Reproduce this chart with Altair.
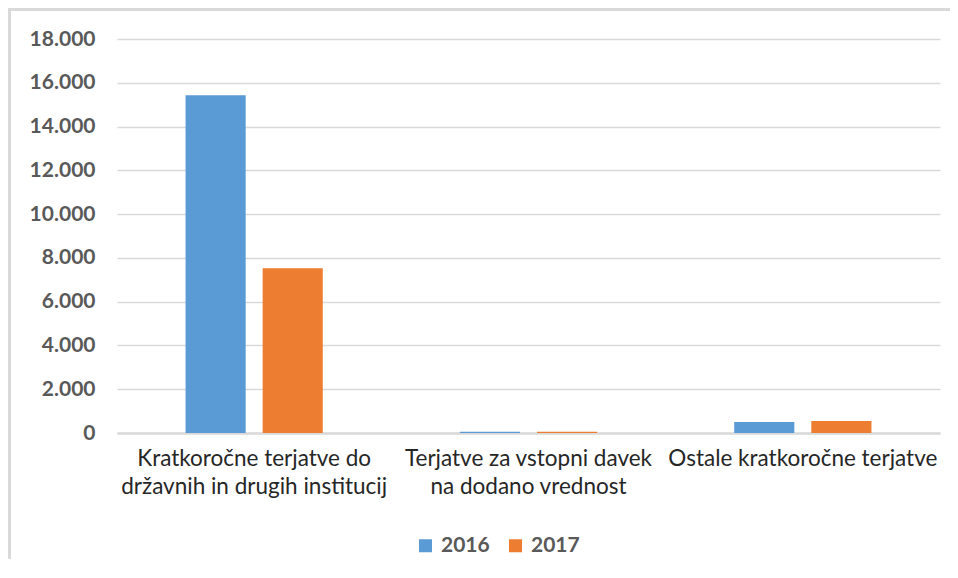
import altair as alt
import pandas as pd

categories = [
    "Kratkoročne terjatve do državnih in drugih institucij",
    "Terjatve za vstopni davek na dodano vrednost",
    "Ostale kratkoročne terjatve",
]
label_lines = [
    ["Kratkoročne terjatve do", "državnih in drugih institucij"],
    ["Terjatve za vstopni davek", "na dodano vrednost"],
    ["Ostale kratkoročne terjatve"],
]
years = ["2016", "2017"]
values_2016 = [15430, 60, 500]
values_2017 = [7530, 55, 545]
y_ticks = [0, 2000, 4000, 6000, 8000, 10000, 12000, 14000, 16000, 18000]
colors = ["#5B9BD5", "#ED7D31"]

rows = []
for c, a, b in zip(categories, values_2016, values_2017):
    rows.append({"cat": c, "year": "2016", "value": a})
    rows.append({"cat": c, "year": "2017", "value": b})
df = pd.DataFrame(rows)

# label expression mapping category -> multi-line label
mapping = "{" + ",".join(
    "'" + c + "': [" + ",".join("'" + l + "'" for l in lines) + "]"
    for c, lines in zip(categories, label_lines)
) + "}"

FONT = "Lato"

bars = alt.Chart(df).mark_bar().encode(
    x=alt.X(
        "cat:N",
        sort=categories,
        title=None,
        scale=alt.Scale(paddingInner=0, paddingOuter=0),
        axis=alt.Axis(
            labelExpr=mapping + "[datum.value]",
            labelAngle=0,
            labelFont=FONT,
            labelFontSize=22.5,
            labelColor="#262626",
            labelPadding=14,
            labelLineHeight=28,
            labelBaseline="top",
            ticks=False,
            domainColor="#d9d9d9",
            domainWidth=2.5,
            grid=False,
            labelLimit=400,
        ),
    ),
    xOffset=alt.XOffset(
        "year:N", scale=alt.Scale(paddingInner=0.22, paddingOuter=0.889)
    ),
    y=alt.Y(
        "value:Q",
        title=None,
        scale=alt.Scale(domain=[0, 18000], nice=False),
        axis=alt.Axis(
            values=y_ticks,
            labelExpr="replace(format(datum.value, ','), ',', '.')",
            labelFont=FONT,
            labelFontSize=21,
            labelFontWeight="bold",
            labelColor="#595959",
            labelPadding=22,
            ticks=False,
            domain=False,
            gridColor="#d9d9d9",
            gridWidth=1.5,
        ),
    ),
    color=alt.Color(
        "year:N",
        scale=alt.Scale(domain=years, range=colors),
        legend=alt.Legend(
            title=None,
            orient="none",
            legendX=298,
            legendY=496,
            direction="horizontal",
            symbolType="square",
            symbolSize=169,
            symbolStrokeWidth=0,
            labelFont=FONT,
            labelFontSize=21,
            labelFontWeight="bold",
            labelColor="#595959",
            labelOffset=5,
            columnPadding=15,
        ),
    ),
)

dummy = pd.DataFrame({"a": [0]})
frame_top = alt.Chart(dummy).mark_rule(color="#d9d9d9", strokeWidth=3).encode(
    x=alt.value(-109),
    x2=alt.value(833),
    y=alt.value(-29.5),
)
frame_left = alt.Chart(dummy).mark_rect(color="#d9d9d9").encode(
    x=alt.value(-109),
    x2=alt.value(-106),
    y=alt.value(-31),
    y2=alt.value(530),
)

chart = alt.layer(bars, frame_top, frame_left).properties(
    width=823,
    height=394,
    background="white",
    autosize=alt.AutoSizeParams(type="none"),
    padding={"left": 109, "top": 31, "right": 10, "bottom": 126},
).configure_view(strokeWidth=0, stroke="transparent")

chart.save("out.html", embed_options={"renderer": "svg", "actions": False})
